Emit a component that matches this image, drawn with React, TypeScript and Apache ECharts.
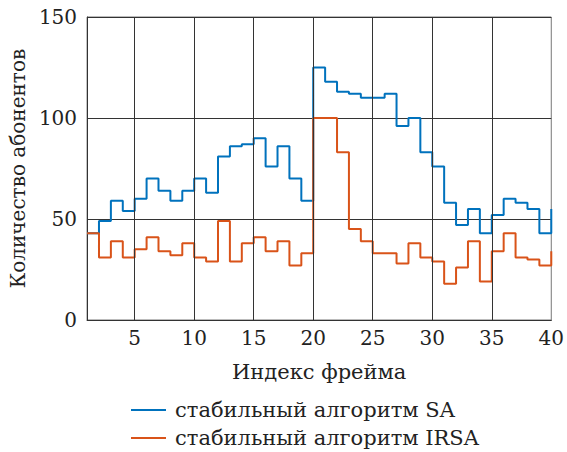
import React, { useEffect, useRef } from "react";
import * as echarts from "echarts";

const frameIndex = [1,2,3,4,5,6,7,8,9,10,11,12,13,14,15,16,17,18,19,20,21,22,23,24,25,26,27,28,29,30,31,32,33,34,35,36,37,38,39,40];
const saValues = [43,49,59,54,60,70,64,59,64,70,63,81,86,87,90,76,86,70,59,125,118,113,112,110,110,112,96,100,83,76,58,47,55,43,52,60,58,55,43,55];
const irsaValues = [43,31,39,31,35,41,34,32,38,31,29,49,29,38,41,34,39,27,33,100,100,83,45,39,33,33,28,38,31,29,18,26,39,19,34,43,31,30,27,34];
const xTickLabels = [5,10,15,20,25,30,35,40];
const xGridLines = [5,10,15,20,25,30,35];
const seriesNames = ["стабильный алгоритм SA", "стабильный алгоритм IRSA"];
const xName = "Индекс фрейма";
const yName = "Количество абонентов";

const FONT = "DejaVu Serif";

export default function App() {
  const ref = useRef<HTMLDivElement>(null);
  useEffect(() => {
    if (!ref.current) return;
    const chart = echarts.init(ref.current, null, { renderer: "svg" });
    const toPairs = (vals: number[]) => frameIndex.map((x, i) => [x, vals[i]]);
    chart.setOption({
      animation: false,
      grid: {
        left: 87,
        right: 14,
        top: 17,
        bottom: 132,
        show: true,
        borderColor: "#777",
        borderWidth: 1,
      },
      legend: {
        orient: "vertical",
        left: 131,
        top: 398,
        padding: 0,
        itemWidth: 35,
        itemHeight: 2,
        itemGap: 4,
        icon: "rect",
        data: seriesNames,
        textStyle: { fontFamily: FONT, fontSize: 21, lineHeight: 24, color: "#222", padding: [0, 0, 0, 4] },
      },
      xAxis: {
        type: "value",
        min: 1,
        max: 40,
        name: xName,
        nameLocation: "middle",
        nameGap: 41,
        nameTextStyle: { fontFamily: FONT, fontSize: 21, color: "#222" },
        axisLine: { show: true, lineStyle: { color: "#333", width: 1 } },
        axisTick: { show: false },
        splitLine: { show: false },
        axisLabel: {
          customValues: xTickLabels,
          fontFamily: FONT,
          fontSize: 20,
          color: "#222",
          margin: 8,
        },
      },
      yAxis: {
        type: "value",
        min: 0,
        max: 150,
        interval: 50,
        name: yName,
        nameLocation: "middle",
        nameGap: 58,
        nameTextStyle: { fontFamily: FONT, fontSize: 20, color: "#222" },
        axisLine: { show: true, lineStyle: { color: "#333", width: 1 } },
        axisTick: { show: false },
        splitLine: { show: true, lineStyle: { color: "#333", width: 1 } },
        axisLabel: { fontFamily: FONT, fontSize: 20, color: "#222", margin: 10 },
      },
      series: [
        {
          type: "line",
          name: "grid",
          data: [[1, 0]],
          symbol: "none",
          lineStyle: { opacity: 0 },
          silent: true,
          z: 1,
          markLine: {
            silent: true,
            symbol: "none",
            label: { show: false },
            lineStyle: { color: "#333", width: 1, type: "solid" },
            data: xGridLines.map((v) => ({ xAxis: v })),
          },
        },
        {
          type: "line",
          name: seriesNames[0],
          data: toPairs(saValues),
          step: "end",
          symbol: "none",
          color: "#0072BD",
          lineStyle: { width: 2, color: "#0072BD" },
          z: 3,
        },
        {
          type: "line",
          name: seriesNames[1],
          data: toPairs(irsaValues),
          step: "end",
          symbol: "none",
          color: "#D95319",
          lineStyle: { width: 2, color: "#D95319" },
          z: 4,
        },
      ],
    });
    return () => chart.dispose();
  }, []);
  return <div ref={ref} style={{ width: 567, height: 452, position: "absolute", left: 0, top: 0 }} />;
}
